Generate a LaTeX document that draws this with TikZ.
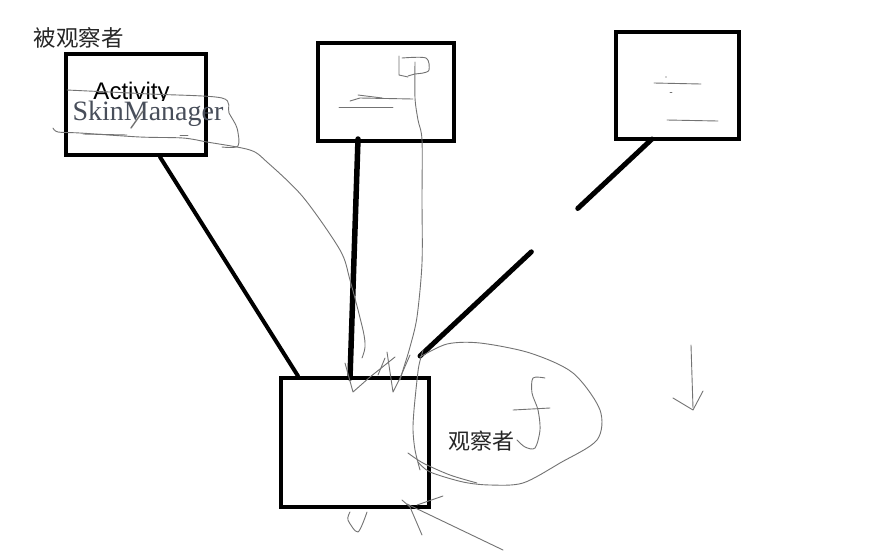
\documentclass[tikz,border=0pt]{standalone}
\usepackage{fontspec}
\setmainfont{Liberation Sans}
\newfontfamily\cjkfont{Noto Sans CJK SC}
\newfontfamily\seriffont{Liberation Serif}
\usetikzlibrary{calc}
\definecolor{pencil}{RGB}{115,115,115}
\definecolor{inkgray}{RGB}{72,78,90}
\begin{document}
\begin{tikzpicture}[x=1pt,y=-1pt,
  frame/.style={draw=black, line width=4pt, inner sep=0pt, fill=none},
  link/.style={draw=black, line width=4pt, line cap=round},
  scribble/.style={draw=pencil, line width=0.9pt, line cap=round, line join=round},
  cjklabel/.style={inner sep=0pt, font=\cjkfont\fontsize{22.5}{22.5}\selectfont, text=black!85}]
\useasboundingbox (0,0) rectangle (871,550);
\fill[white] (0,0) rectangle (871,550);

% boxes
\node[frame, minimum width=140pt, minimum height=101pt] (subject) at (135.5,104.5) {};
\node[frame, minimum width=136pt, minimum height=98pt]  (second)  at (386,92) {};
\node[frame, minimum width=123pt, minimum height=107pt] (third)   at (677.5,85.5) {};
\node[frame, minimum width=148pt, minimum height=129pt] (observer) at (355,442.5) {};

% labels
\node[cjklabel] (subjlabel) at (79,38) {被观察者};
\node[cjklabel, font=\cjkfont\fontsize{22}{22}\selectfont] (obslabel) at (481,441) {观察者};
\begin{scope}
  \clip (60,70) rectangle (210,100);
  \node[inner sep=0pt, anchor=base, font=\fontsize{24}{24}\selectfont] (act) at (131.5,99.5) {Activity};
\end{scope}
\node[inner sep=0pt, anchor=base, text=inkgray, font=\seriffont\fontsize{28}{28}\selectfont] (skin) at (148,120.5) {SkinManager};

% connector end points
\coordinate (s1) at ([xshift=24.5pt]subject.south);
\coordinate (o1) at ([xshift=-57pt]observer.north);
\coordinate (s2) at ([xshift=-28pt,yshift=4pt]second.south);
\coordinate (o2) at ([xshift=-5pt,yshift=-2pt]observer.north);
\coordinate (s3) at ([xshift=-25.5pt,yshift=2pt]third.south);
\coordinate (o3) at ([xshift=-11pt,yshift=20pt]observer.north east);

% connectors
\draw[link] (s1) -- (o1);
\draw[link, line width=5.5pt] (s2) -- (o2);
\draw[link, line width=5pt] (s3) -- ($(s3)!0.32!(o3)$);
\draw[link, line width=5pt] ($(s3)!0.52!(o3)$) -- (o3);

% pencil marks around the first box
\draw[scribble] plot[smooth] coordinates {(67,90) (150,94) (222,98) (229,113) (237,128) (238,146) (222,147)};
\draw[scribble] plot[smooth] coordinates {(53,128) (58,132) (80,133) (140,137) (183,138) (207,142) (250,150) (267,162) (303,197) (340,250) (350,280) (363,330) (365,347) (362,358)};
\draw[scribble] (83,134) -- (127,135);
\draw[scribble] (180,135) -- (188,135);
\draw[scribble, line width=1.4pt] (131,128) -- (143,111);

% pencil marks in the second box and down to the observer
\draw[scribble] (399,56) -- (399,75) -- (408,77);
\draw[scribble] plot[smooth] coordinates {(402,58) (426,58) (429,70) (423,73) (415,74) (408,76)};
\draw[scribble] plot[smooth] coordinates {(415,62) (415,98) (418,120) (422,140) (422,200) (422,263) (417,317) (410,347) (403,370) (400,380)};
\draw[scribble] (350,101) -- (360,98) -- (413,99);
\draw[scribble] (358,95) -- (382,98);
\draw[scribble] (339,107) -- (393,107);

% pencil marks in the third box
\draw[scribble] (654,83) -- (701,84);
\draw[scribble] (667,120) -- (718,121);
\fill[pencil!60!black] (666,77) circle (0.7pt);
\draw[scribble] (670,92) -- (672,92);

% pencil marks over the observer's top edge
\draw[scribble] (345,363) -- (353,392) -- (370,377) -- (395,357);
\draw[scribble] (387,352) -- (393,392) -- (400,378) -- (410,355);
\draw[scribble] (385,358) -- (378,375);
\draw[scribble] plot[smooth] coordinates {(423,350) (419,365) (417,380) (414,410) (413,430) (415,450) (420,470)};

% loop around the observer label
\draw[scribble] plot[smooth] coordinates {(420,357) (447,344) (480,343) (530,353) (573,373) (600,410) (597,440) (560,463) (523,483) (490,485) (463,482) (430,472) (418,462)};
\draw[scribble] plot[smooth] coordinates {(408,453) (423,463) (450,475) (477,483)};
\draw[scribble] plot[smooth] coordinates {(545,378) (533,378) (532,393) (538,410) (540,430) (535,448) (525,447) (517,440)};
\draw[scribble] (513,410) -- (550,408);

% pencil marks under the observer
\draw[scribble] plot[smooth] coordinates {(350,512) (348,520) (358,532) (367,512)};
\draw[scribble] (402,500) -- (410,507) -- (422,535);
\draw[scribble] (407,504) -- (503,550);
\draw[scribble] (417,505) -- (443,496);

% arrow mark on the right
\draw[scribble] (691,345) -- (693,408);
\draw[scribble] (673,398) -- (693,410) -- (703,391);
\end{tikzpicture}
\end{document}
